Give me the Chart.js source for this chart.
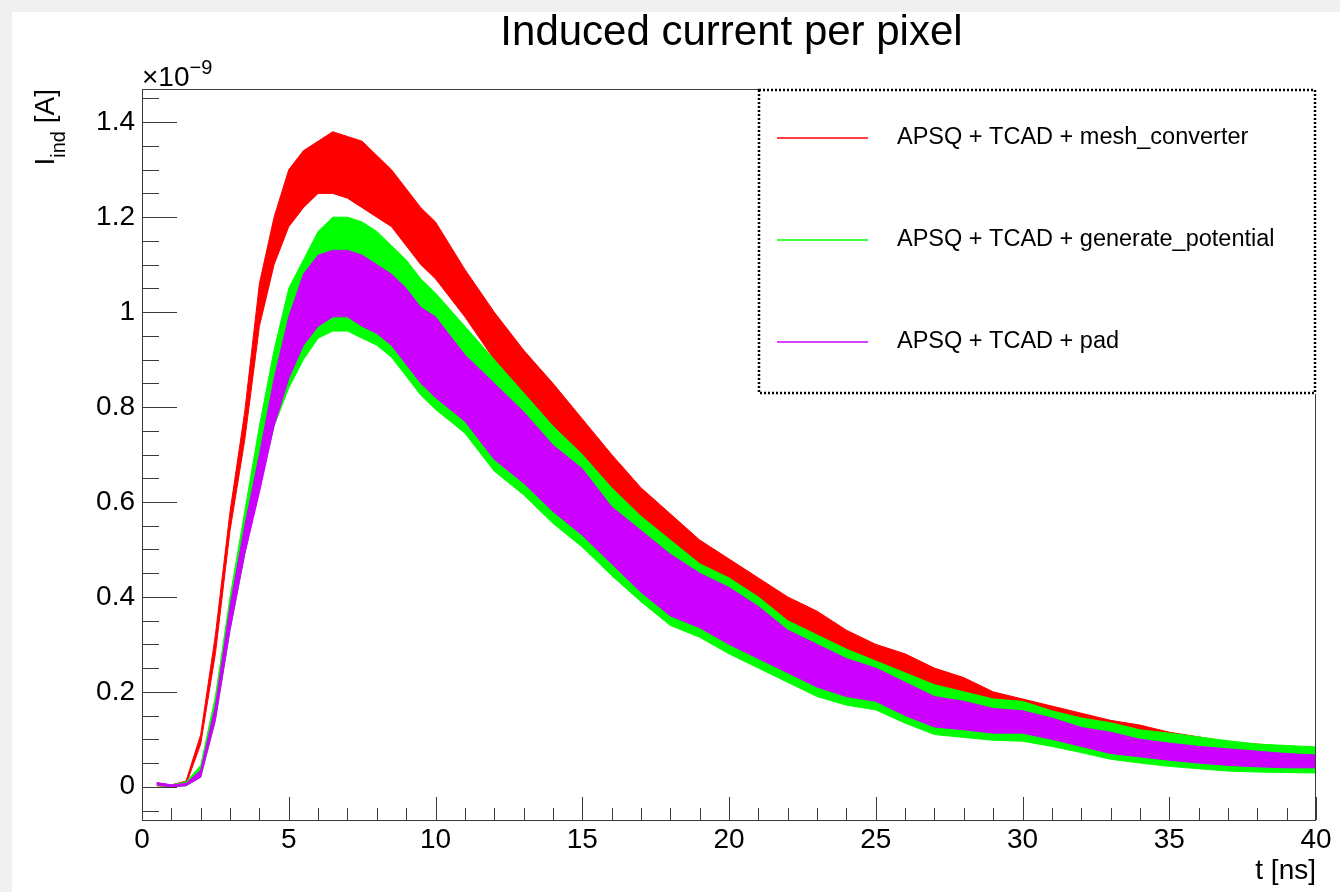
<!DOCTYPE html>
<html>
<head>
<meta charset="utf-8">
<title>Induced current per pixel</title>
<script src="https://cdn.jsdelivr.net/npm/chart.js@4.4.0/dist/chart.umd.min.js"></script>
<style>
  html, body { margin: 0; padding: 0; background: #f0f0f0; }
  #wrap { position: absolute; left: 12px; top: 12px; width: 1328px; height: 880px; background: #fff; }
</style>
</head>
<body>
<div id="wrap"><canvas id="chart" width="1328" height="880"></canvas></div>
<script>
// sample times [ns] at which the noise band of each trace was read
const timeNs = [0.5, 1, 1.5, 2, 2.5, 3, 3.5, 4, 4.5, 5, 5.5, 6, 6.5, 7, 7.5, 8, 8.5, 9, 9.5, 10,
  11, 12, 13, 14, 15, 16, 17, 18, 19, 20, 21, 22, 23, 24, 25, 26, 27, 28, 29, 30,
  31, 32, 33, 34, 35, 36, 37, 38, 39, 40]

// upper / lower edge of the noisy band, in units of 1e-9 A
const meshHi = [0.008, 0.004, 0.012, 0.11, 0.32, 0.58, 0.79, 1.06, 1.20, 1.30, 1.34, 1.36, 1.38, 1.37, 1.36, 1.33, 1.30, 1.26, 1.22, 1.19,
  1.09, 1.00, 0.92, 0.85, 0.775, 0.70, 0.63, 0.575, 0.52, 0.48, 0.44, 0.40, 0.37, 0.33, 0.30, 0.28, 0.25, 0.23, 0.20, 0.185,
  0.17, 0.155, 0.14, 0.13, 0.115, 0.105, 0.095, 0.09, 0.085, 0.08]
const meshLo = [0.002, 0.0, 0.004, 0.09, 0.28, 0.54, 0.73, 0.97, 1.10, 1.18, 1.22, 1.25, 1.25, 1.24, 1.22, 1.20, 1.18, 1.14, 1.10, 1.07,
  0.99, 0.90, 0.82, 0.76, 0.69, 0.62, 0.56, 0.51, 0.46, 0.42, 0.38, 0.34, 0.31, 0.28, 0.25, 0.23, 0.20, 0.18, 0.16, 0.145,
  0.13, 0.12, 0.105, 0.095, 0.085, 0.075, 0.065, 0.06, 0.05, 0.045]

const genHi = [0.007, 0.004, 0.01, 0.045, 0.19, 0.40, 0.58, 0.76, 0.92, 1.05, 1.11, 1.17, 1.20, 1.20, 1.19, 1.17, 1.14, 1.11, 1.07, 1.04,
  0.97, 0.90, 0.83, 0.76, 0.70, 0.63, 0.57, 0.52, 0.47, 0.44, 0.40, 0.35, 0.32, 0.29, 0.265, 0.24, 0.215, 0.20, 0.185, 0.18,
  0.16, 0.145, 0.135, 0.12, 0.113, 0.105, 0.097, 0.09, 0.087, 0.084]
const genLo = [0.003, 0.0, 0.002, 0.02, 0.14, 0.33, 0.49, 0.63, 0.76, 0.84, 0.90, 0.945, 0.96, 0.96, 0.945, 0.93, 0.905, 0.865, 0.825, 0.795,
  0.745, 0.665, 0.615, 0.555, 0.505, 0.445, 0.39, 0.34, 0.315, 0.28, 0.25, 0.22, 0.19, 0.172, 0.162, 0.134, 0.11, 0.104, 0.098, 0.096,
  0.085, 0.072, 0.058, 0.05, 0.043, 0.038, 0.033, 0.031, 0.03, 0.029]

const padHi = [0.009, 0.004, 0.007, 0.035, 0.17, 0.38, 0.55, 0.70, 0.86, 0.99, 1.08, 1.12, 1.13, 1.13, 1.12, 1.10, 1.08, 1.05, 1.01, 0.99,
  0.91, 0.85, 0.79, 0.72, 0.67, 0.59, 0.54, 0.49, 0.45, 0.42, 0.38, 0.33, 0.30, 0.27, 0.25, 0.22, 0.19, 0.18, 0.165, 0.16,
  0.145, 0.125, 0.115, 0.10, 0.092, 0.085, 0.08, 0.075, 0.07, 0.067]
const padLo = [0.004, 0.0, 0.002, 0.02, 0.14, 0.33, 0.49, 0.62, 0.76, 0.86, 0.93, 0.97, 0.99, 0.99, 0.97, 0.955, 0.93, 0.89, 0.85, 0.82,
  0.77, 0.69, 0.64, 0.58, 0.53, 0.47, 0.41, 0.36, 0.335, 0.30, 0.27, 0.24, 0.21, 0.19, 0.18, 0.15, 0.126, 0.12, 0.113, 0.113,
  0.10, 0.085, 0.07, 0.063, 0.056, 0.05, 0.045, 0.042, 0.04, 0.04]

const seriesNames = ['APSQ + TCAD + mesh_converter', 'APSQ + TCAD + generate_potential', 'APSQ + TCAD + pad']
const seriesColors = ['#ff0000', '#00ff00', '#cc00ff']

const xTicks = [0, 5, 10, 15, 20, 25, 30, 35, 40]
const xTickLabels = ['0', '5', '10', '15', '20', '25', '30', '35', '40']
const yTicks = [0, 0.2, 0.4, 0.6, 0.8, 1.0, 1.2, 1.4]
const yTickLabels = ['0', '0.2', '0.4', '0.6', '0.8', '1', '1.2', '1.4']

const FONT = "'Liberation Sans', Arial, Helvetica, sans-serif"
Chart.defaults.font.family = FONT
Chart.defaults.color = '#000'

const toPoints = (vals) => vals.map((v, i) => ({ x: timeNs[i], y: v }))

function band(lo, hi, color, order) {
  const common = {
    borderColor: color,
    backgroundColor: color,
    borderWidth: 1,
    pointRadius: 0,
    tension: 0,
    order: order
  }
  return [
    { ...common, data: toPoints(lo), fill: false },
    { ...common, data: toPoints(hi), fill: '-1' }
  ]
}

// ROOT style: frame, ticks drawn inwards, title, axis labels and legend
const rootDecor = {
  id: 'rootDecor',
  afterDatasetsDraw(chart) {
    const { ctx, chartArea: a, scales: { x, y } } = chart
    ctx.save()
    ctx.strokeStyle = '#3a3a3a'
    ctx.lineWidth = 1
    ctx.strokeRect(a.left + 0.5, a.top + 0.5, a.right - a.left - 1, a.bottom - a.top)

    ctx.beginPath()
    for (let k = -1; k <= 29; k++) {
      const v = k * 0.05
      const py = Math.round(y.getPixelForValue(v)) + 0.5
      const len = (k % 4 === 0) ? 35 : 17
      ctx.moveTo(a.left, py)
      ctx.lineTo(a.left + len, py)
    }
    for (let k = 0; k <= 40; k++) {
      const px = Math.round(x.getPixelForValue(k)) + 0.5
      const len = (k % 5 === 0) ? 23 : 12
      ctx.moveTo(px, a.bottom)
      ctx.lineTo(px, a.bottom - len)
    }
    ctx.stroke()

    // title
    ctx.fillStyle = '#000'
    ctx.textBaseline = 'alphabetic'
    ctx.textAlign = 'center'
    ctx.font = '42px ' + FONT
    ctx.fillText('Induced current per pixel', 719.5, 33)

    // exponent above the y axis
    ctx.textAlign = 'left'
    ctx.font = '28px ' + FONT
    ctx.fillText('\u00d710', a.left, 74)
    const w10 = ctx.measureText('\u00d710').width
    ctx.font = '20px ' + FONT
    ctx.fillText('\u22129', a.left + w10, 62)

    // x axis title
    ctx.textAlign = 'right'
    ctx.font = '28px ' + FONT
    ctx.fillText('t [ns]', a.right, 867)

    // y axis title, rotated, ending at the frame top
    ctx.font = '28px ' + FONT
    const wI = ctx.measureText('I').width
    const wA = ctx.measureText(' [A]').width
    ctx.font = '20px ' + FONT
    const wSub = ctx.measureText('ind').width
    const total = wI + wSub + wA
    ctx.save()
    ctx.translate(42, a.top + total)
    ctx.rotate(-Math.PI / 2)
    ctx.textAlign = 'left'
    ctx.font = '28px ' + FONT
    ctx.fillText('I', 0, 0)
    ctx.font = '20px ' + FONT
    ctx.fillText('ind', wI, 11)
    ctx.font = '28px ' + FONT
    ctx.fillText(' [A]', wI + wSub, 0)
    ctx.restore()

    // legend box
    const box = { left: 746, top: a.top, right: a.right, bottom: 382 }
    ctx.fillStyle = '#fff'
    ctx.fillRect(box.left, box.top, box.right - box.left, box.bottom - box.top)
    ctx.strokeStyle = '#000'
    ctx.lineWidth = 2.5
    ctx.setLineDash([2, 2])
    ctx.strokeRect(box.left + 1, box.top + 1, box.right - box.left - 2, box.bottom - box.top - 2)
    ctx.setLineDash([])
    const rowY = [126, 228, 330]
    ctx.font = '23.5px ' + FONT
    ctx.textBaseline = 'middle'
    ctx.textAlign = 'left'
    seriesNames.forEach((name, i) => {
      ctx.strokeStyle = seriesColors[i]
      ctx.lineWidth = 1.5
      ctx.beginPath()
      ctx.moveTo(765, rowY[i])
      ctx.lineTo(856, rowY[i])
      ctx.stroke()
      ctx.fillStyle = '#000'
      ctx.fillText(name, 885, rowY[i])
    })
    ctx.restore()
  }
}

new Chart(document.getElementById('chart'), {
  type: 'line',
  data: {
    datasets: [
      ...band(meshLo, meshHi, seriesColors[0], 2),
      ...band(genLo, genHi, seriesColors[1], 1),
      ...band(padLo, padHi, seriesColors[2], 0)
    ]
  },
  options: {
    responsive: false,
    animation: false,
    layout: { padding: { top: 77, right: 24, left: 0, bottom: 0 } },
    plugins: {
      legend: { display: false },
      tooltip: { enabled: false },
      title: { display: false }
    },
    scales: {
      x: {
        type: 'linear',
        min: 0,
        max: 40,
        grid: { display: false, drawTicks: false },
        border: { display: false },
        afterBuildTicks: (scale) => { scale.ticks = xTicks.map(v => ({ value: v })) },
        afterFit: (scale) => { scale.height = 72 },
        ticks: {
          padding: 3,
          maxRotation: 0,
          autoSkip: false,
          font: { size: 28 },
          color: '#000',
          callback: (v, i) => xTickLabels[i]
        }
      },
      y: {
        type: 'linear',
        min: -0.07,
        max: 1.47,
        grid: { display: false, drawTicks: false },
        border: { display: false },
        afterBuildTicks: (scale) => { scale.ticks = yTicks.map(v => ({ value: v })) },
        afterFit: (scale) => { scale.width = 130 },
        ticks: {
          padding: 7,
          autoSkip: false,
          font: { size: 28 },
          color: '#000',
          callback: (v, i) => yTickLabels[i]
        }
      }
    }
  },
  plugins: [rootDecor]
})
</script>
</body>
</html>
